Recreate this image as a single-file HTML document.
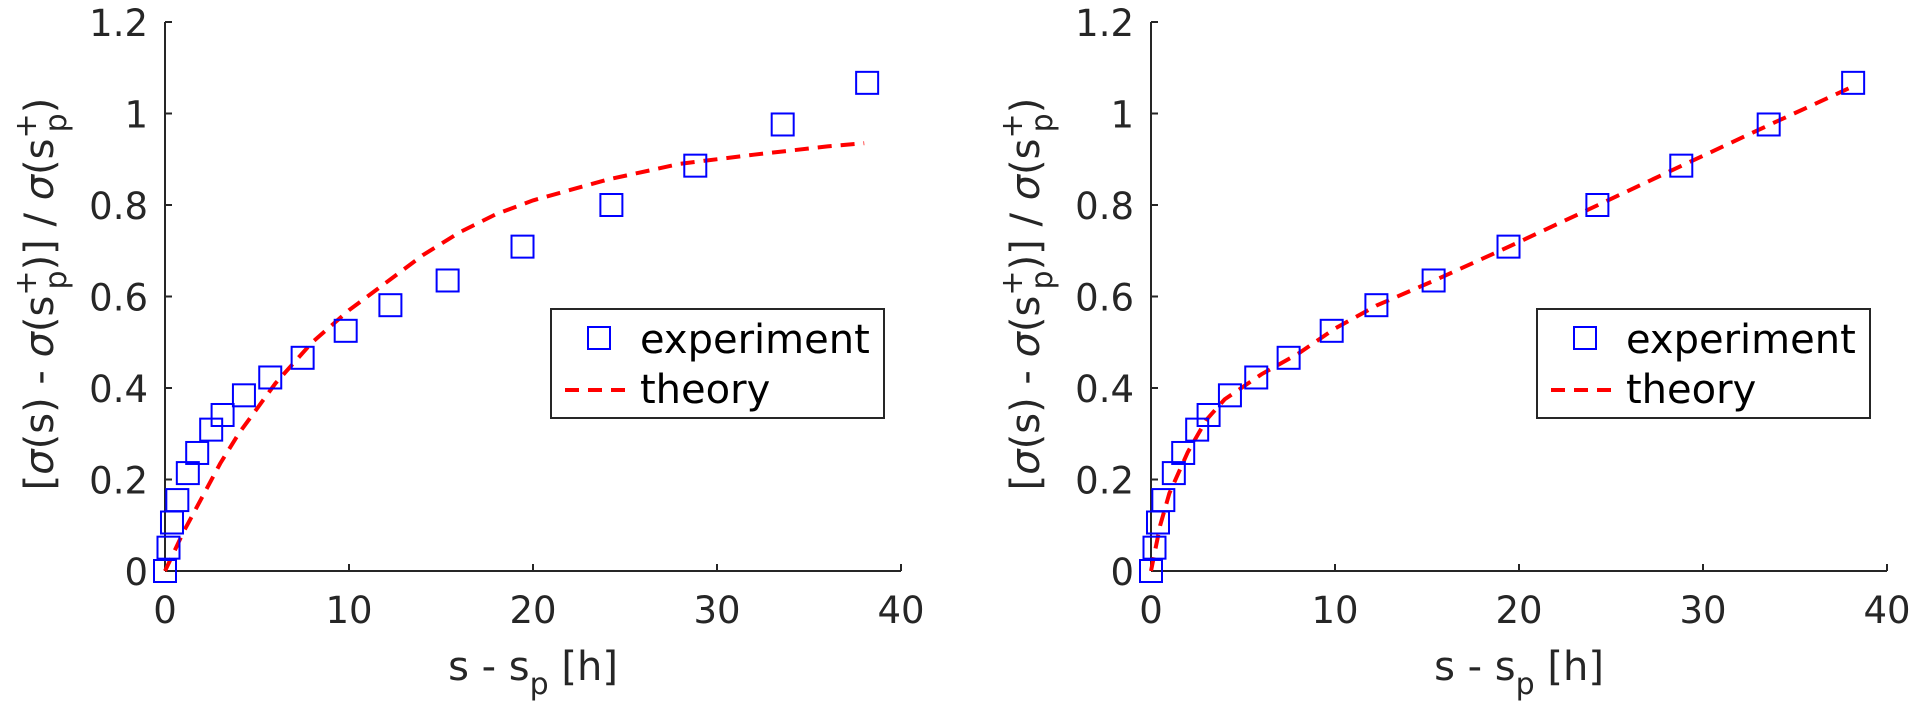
<!DOCTYPE html>
<html><head><meta charset="utf-8"><style>
html,body{margin:0;padding:0;background:#fff;}
svg{display:block;font-family:"DejaVu Sans","Liberation Sans",sans-serif;}
</style></head><body>
<svg id="fig" width="1920" height="716" viewBox="0 0 1920 716" xmlns="http://www.w3.org/2000/svg"></svg>
<script>
const expX = [0, 0.19, 0.38, 0.67, 1.24, 1.75, 2.51, 3.13, 4.29, 5.72, 7.48, 9.82, 12.25, 15.36, 19.43, 24.26, 28.82, 33.57, 38.16];
const expY = [0, 0.051, 0.106, 0.155, 0.214, 0.258, 0.309, 0.341, 0.384, 0.423, 0.466, 0.525, 0.581, 0.635, 0.709, 0.800, 0.886, 0.976, 1.067];
const theoryLeftX = [0, 1, 2, 3, 4, 6, 8, 10, 12, 14, 16, 18, 20, 24, 28, 32, 36, 38];
const theoryLeftY = [0, 0.085, 0.16, 0.235, 0.30, 0.41, 0.50, 0.57, 0.63, 0.69, 0.74, 0.78, 0.81, 0.855, 0.89, 0.91, 0.928, 0.935];
const theoryRightX = [0, 0.5, 1, 2, 3, 4, 6, 8, 10, 12.25, 15.4, 19.4, 24.3, 28.8, 33.6, 38.2];
const theoryRightY = [0, 0.10, 0.17, 0.26, 0.33, 0.375, 0.43, 0.475, 0.53, 0.58, 0.635, 0.708, 0.80, 0.885, 0.975, 1.06];
const xTicks = [0, 10, 20, 30, 40];
const yTicks = [0, 0.2, 0.4, 0.6, 0.8, 1, 1.2];
const yTickLabels = ["0", "0.2", "0.4", "0.6", "0.8", "1", "1.2"];

const NS = "http://www.w3.org/2000/svg";
const svg = document.getElementById('fig');
function mk(tag, attrs, parent) {
  const e = document.createElementNS(NS, tag);
  for (const k in attrs) e.setAttribute(k, attrs[k]);
  (parent || svg).appendChild(e);
  return e;
}

function panel(ox, tx, ty, name) {
  const g = mk('g', {});
  
  
  const x0 = ox, x1 = ox + 736, y0 = 571, y1 = 22;
  const sx = v => x0 + (v / 40) * (x1 - x0);
  const sy = v => y0 - (v / 1.2) * (y0 - y1);

  const xa = mk('line', {x1: x0, y1: y0, x2: x1, y2: y0, stroke: '#262626', 'stroke-width': 2}, g);
  
  
  const ya = mk('line', {x1: x0, y1: y0, x2: x0, y2: y1, stroke: '#262626', 'stroke-width': 2}, g);
  
  

  xTicks.forEach(t => {
    const x = sx(t);
    mk('line', {x1: x, y1: y0, x2: x, y2: y0 - 7, stroke: '#262626', 'stroke-width': 2}, g);
    const lb = mk('text', {x: x, y: 623, 'font-size': 37, fill: '#262626', 'text-anchor': 'middle'}, g);
    lb.textContent = t;
    
    
  });
  yTicks.forEach((t, i) => {
    const y = sy(t);
    mk('line', {x1: x0, y1: y, x2: x0 + 7, y2: y, stroke: '#262626', 'stroke-width': 2}, g);
    const lb = mk('text', {x: x0 - 17, y: y + 14, 'font-size': 37, fill: '#262626', 'text-anchor': 'end'}, g);
    lb.textContent = yTickLabels[i];
    
    
  });

  const xl = mk('text', {x: (x0 + x1) / 2, y: 680, 'font-size': 40, fill: '#262626', 'text-anchor': 'middle'}, g);
  xl.innerHTML = 's - s<tspan font-size="30" dy="14">p</tspan><tspan dy="-14"> [h]</tspan>';
  
  

  const yl = mk('text', {x: 0, y: 0, 'font-size': 40, fill: '#262626', 'text-anchor': 'middle',
    transform: 'translate(' + (ox - 112) + ',294) rotate(-90)'}, g);
  yl.innerHTML = '[<tspan font-style="italic">σ</tspan>(s) - <tspan font-style="italic">σ</tspan>(s<tspan font-size="30" dy="-17">+</tspan><tspan font-size="30" dx="-19" dy="30">p</tspan><tspan dy="-13">)] / </tspan><tspan font-style="italic">σ</tspan>(s<tspan font-size="30" dy="-17">+</tspan><tspan font-size="30" dx="-19" dy="30">p</tspan><tspan dy="-13">)</tspan>';
  
  

  const pts = tx.map((v, i) => sx(v).toFixed(1) + ',' + sy(ty[i]).toFixed(1)).join(' ');
  const pl = mk('polyline', {points: pts, fill: 'none', stroke: '#ff0000', 'stroke-width': 4, 'stroke-dasharray': '14 9'}, g);
  
  

  expX.forEach((v, i) => {
    const r = mk('rect', {x: sx(v) - 11, y: sy(expY[i]) - 11, width: 22, height: 22, fill: 'none', stroke: '#0000ff', 'stroke-width': 2}, g);
    
    
  });

  const lg = mk('g', {}, g);
  
  
  const lx = ox + 386;
  mk('rect', {x: lx, y: 309, width: 333, height: 109, fill: '#fff', stroke: '#262626', 'stroke-width': 2}, lg);
  const e1 = mk('g', {}, lg);
  
  
  mk('rect', {x: lx + 37, y: 327, width: 22, height: 22, fill: 'none', stroke: '#0000ff', 'stroke-width': 2}, e1);
  const t1 = mk('text', {x: lx + 89, y: 353, 'font-size': 40, fill: '#000'}, e1);
  t1.textContent = 'experiment';
  const e2 = mk('g', {}, lg);
  
  
  mk('line', {x1: lx + 14, y1: 390, x2: lx + 83, y2: 390, stroke: '#ff0000', 'stroke-width': 4, 'stroke-dasharray': '14 9'}, e2);
  const t2 = mk('text', {x: lx + 89, y: 403, 'font-size': 40, fill: '#000'}, e2);
  t2.textContent = 'theory';
}

panel(165, theoryLeftX, theoryLeftY, 'left-chart');
panel(1151, theoryRightX, theoryRightY, 'right-chart');
</script>
</body></html>
